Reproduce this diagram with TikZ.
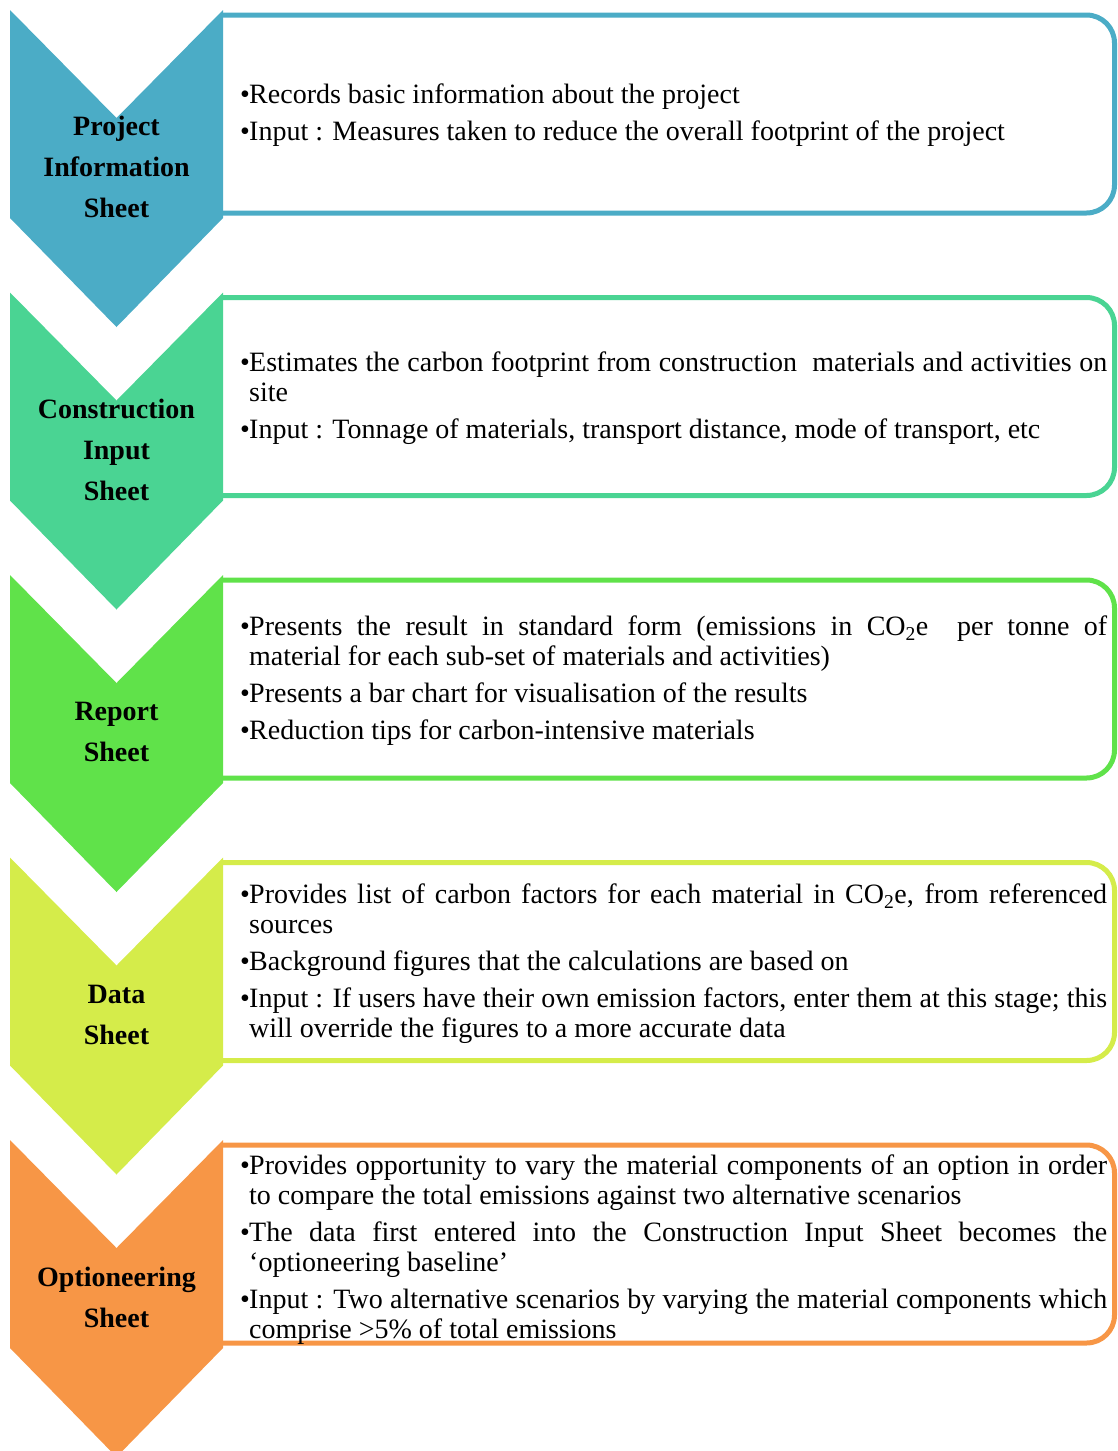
\documentclass[tikz,border=0pt]{standalone}
\usepackage{fontspec}
\setmainfont{Liberation Serif}

\definecolor{stepA}{HTML}{4BACC6}
\definecolor{stepB}{HTML}{4AD493}
\definecolor{stepC}{HTML}{60E24A}
\definecolor{stepD}{HTML}{D5EC4A}
\definecolor{stepE}{HTML}{F79646}

% bullet lines: bullet+justified, bullet+ragged, continuation (ragged)
\newcommand\bul{\makebox[9pt][l]{\textbullet}}
\newcommand\bj[1]{\hbox to \hsize{\bul #1}}
\newcommand\br[1]{\hbox to \hsize{\bul #1\hfil}}
\newcommand\cont[1]{\hbox to \hsize{\hskip9pt #1\hfil}}
\newcommand\gap{\vskip7pt}
\newcommand\bodytext[1]{\vbox{\hsize=867pt\fontsize{28}{30}\selectfont #1}}

\tikzset{
  chevron/.style={fill=#1, draw=none},
  panelfill/.style={fill=white, draw=none},
  panelrim/.style={draw=#1, line width=5pt, rounded corners=28pt, line cap=butt},
  stagelabel/.style={font=\bfseries\fontsize{28}{41}\selectfont, align=center, inner sep=0pt},
  stagebody/.style={anchor=west, inner sep=0pt}
}

\begin{document}
\begin{tikzpicture}[x=1pt,y=-1pt]
\useasboundingbox (0,0) rectangle (1118,1451);

% panels and chevrons
\foreach \i/\c in {0/stepA,1/stepB,2/stepC,3/stepD,4/stepE}{
  \pgfmathsetmacro\T{10+282.5*\i}
  \fill[panelfill] (223,\T+5) rectangle (1114,\T+203);
  \draw[panelrim=\c] (222,\T+5) -- (1114.5,\T+5) -- (1114.5,\T+203) -- (222,\T+203);
  \fill[chevron=\c] (10,\T) -- (116.5,\T+108) -- (223,\T) -- (223,\T+208)
        -- (116.5,\T+317) -- (10,\T+208) -- cycle;
}

% stage names
\node[stagelabel] (lab1) at (116.5,167)  {Project\\Information\\Sheet};
\node[stagelabel] (lab2) at (116.5,449.5) {Construction\\Input\\Sheet};
\node[stagelabel] (lab3) at (116.5,732)  {Report\\Sheet};
\node[stagelabel] (lab4) at (116.5,1014.5) {Data\\Sheet};
\node[stagelabel] (lab5) at (116.5,1297) {Optioneering\\Sheet};

% descriptions
\node[stagebody] (txt1) at (240,115) {\bodytext{%
  \br{Records basic information about the project}\gap
  \br{Input : Measures taken to reduce the overall footprint of the project}}};

\node[stagebody] (txt2) at (240,398) {\bodytext{%
  \bj{Estimates the carbon footprint from construction\ \ materials and activities on}
  \cont{site}\gap
  \br{Input : Tonnage of materials, transport distance, mode of transport, etc}}};

\node[stagebody] (txt3) at (240,681) {\bodytext{%
  \bj{Presents the result in standard form (emissions in CO\textsubscript{2}e\ \ per tonne of}
  \cont{material for each sub-set of materials and activities)}\gap
  \br{Presents a bar chart for visualisation of the results}\gap
  \br{Reduction tips for carbon-intensive materials}}};

\node[stagebody] (txt4) at (240,964) {\bodytext{%
  \bj{Provides list of carbon factors for each material in CO\textsubscript{2}e, from referenced}
  \cont{sources}\gap
  \br{Background figures that the calculations are based on}\gap
  \bj{Input : If users have their own emission factors, enter them at this stage; this}
  \cont{will override the figures to a more accurate data}}};

\node[stagebody] (txt5) at (240,1250) {\bodytext{%
  \bj{Provides opportunity to vary the material components of an option in order}
  \cont{to compare the total emissions against two alternative scenarios}\gap
  \bj{The data first entered into the Construction Input Sheet becomes the}
  \cont{`optioneering baseline'}\gap
  \bj{Input : Two alternative scenarios by varying the material components which}
  \cont{comprise >5\% of total emissions}}};
\end{tikzpicture}
\end{document}
